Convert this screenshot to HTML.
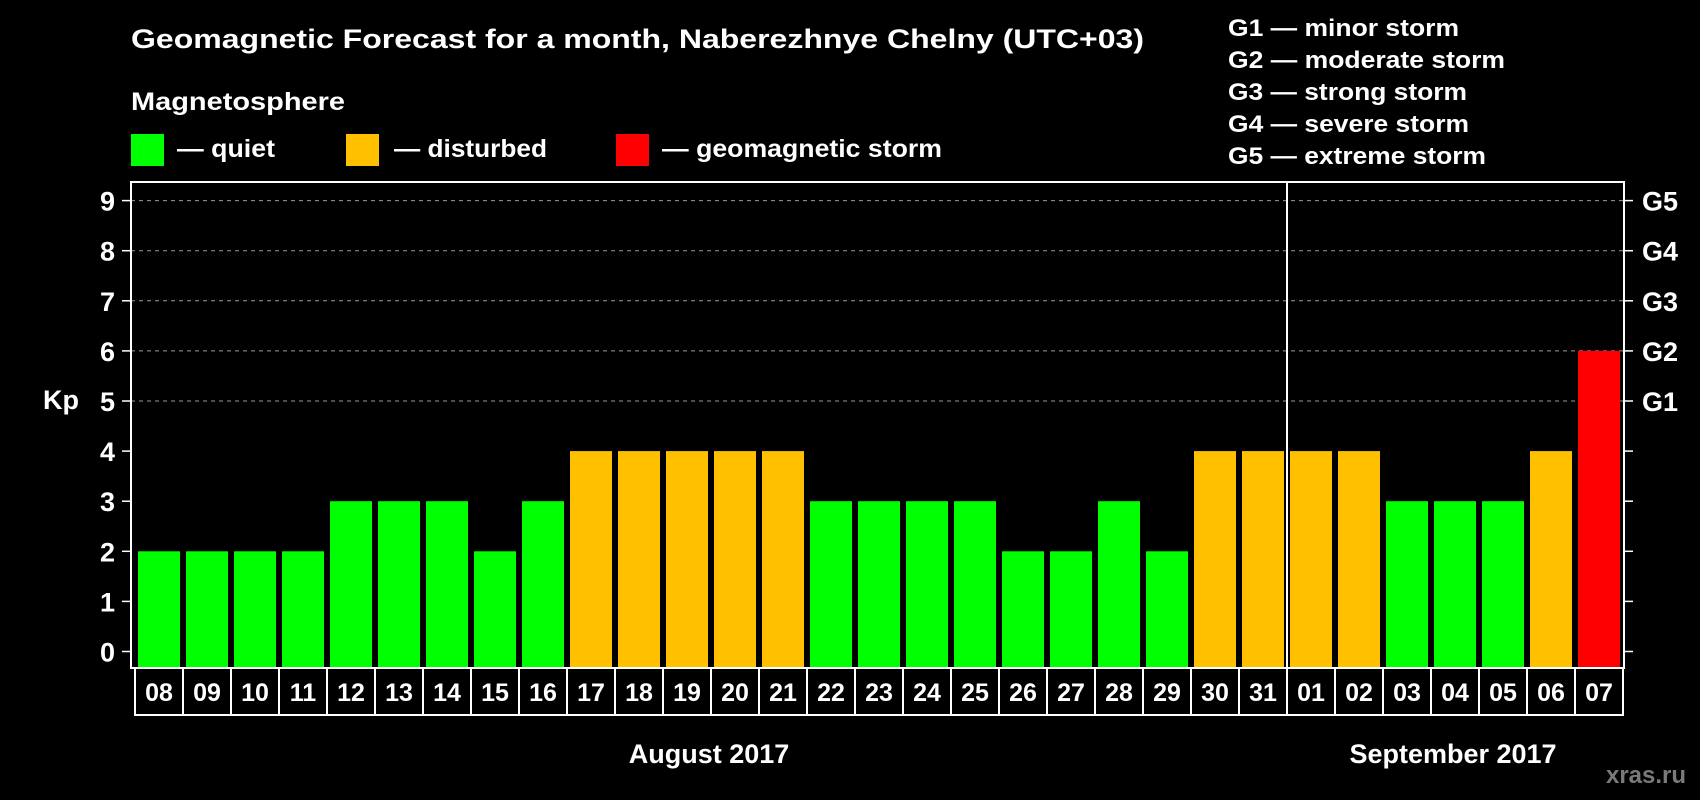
<!DOCTYPE html>
<html><head><meta charset="utf-8"><style>
html,body{margin:0;padding:0;background:#000;}
svg{display:block;font-family:"Liberation Sans",Arial,sans-serif;font-weight:bold;}
</style></head><body>
<svg id="chart" width="1700" height="800" viewBox="0 0 1700 800" xmlns="http://www.w3.org/2000/svg">
<rect x="0" y="0" width="1700" height="800" fill="#000"/>
<text x="131" y="48" fill="#fff" font-size="27" textLength="1013" lengthAdjust="spacingAndGlyphs">Geomagnetic Forecast for a month, Naberezhnye Chelny (UTC+03)</text>
<text x="131" y="110" fill="#fff" font-size="25" textLength="214" lengthAdjust="spacingAndGlyphs">Magnetosphere</text>
<rect x="131" y="134" width="33" height="32" fill="#00ff00"/>
<text x="177" y="157" fill="#fff" font-size="25" textLength="98" lengthAdjust="spacingAndGlyphs">— quiet</text>
<rect x="346" y="134" width="33" height="32" fill="#ffc000"/>
<text x="394" y="157" fill="#fff" font-size="25" textLength="153" lengthAdjust="spacingAndGlyphs">— disturbed</text>
<rect x="616" y="134" width="33" height="32" fill="#ff0000"/>
<text x="662" y="157" fill="#fff" font-size="25" textLength="280" lengthAdjust="spacingAndGlyphs">— geomagnetic storm</text>
<g fill="#fff" font-size="24">
<text x="1228" y="36" textLength="231" lengthAdjust="spacingAndGlyphs">G1 — minor storm</text>
<text x="1228" y="68" textLength="277" lengthAdjust="spacingAndGlyphs">G2 — moderate storm</text>
<text x="1228" y="100" textLength="239" lengthAdjust="spacingAndGlyphs">G3 — strong storm</text>
<text x="1228" y="132" textLength="241" lengthAdjust="spacingAndGlyphs">G4 — severe storm</text>
<text x="1228" y="164" textLength="258" lengthAdjust="spacingAndGlyphs">G5 — extreme storm</text>
</g>
<text x="43" y="409" fill="#fff" font-size="27">Kp</text>
<g id="plot"></g>
<text x="709" y="763" fill="#fff" font-size="27" text-anchor="middle">August 2017</text>
<text x="1453" y="763" fill="#fff" font-size="27" text-anchor="middle">September 2017</text>
<text x="1646" y="783" fill="#7a7a7a" font-size="24" text-anchor="middle">xras.ru</text>
</svg>
<script>
const days = ["08","09","10","11","12","13","14","15","16","17","18","19","20","21","22","23","24","25","26","27","28","29","30","31","01","02","03","04","05","06","07"];
const kpValues = [2,2,2,2,3,3,3,2,3,4,4,4,4,4,3,3,3,3,2,2,3,2,4,4,4,4,3,3,3,4,6];
const yTicks = [0,1,2,3,4,5,6,7,8,9];
const gLabels = ["G1","G2","G3","G4","G5"];
const gLevels = [5,6,7,8,9];
const monthBreakIndex = 24;

const NS = "http://www.w3.org/2000/svg";
const plot = document.getElementById("plot");
const L = 131, R = 1624, T = 182, B = 668;
const y = v => 651.5 - v * 50.1;
const pitch = 48, x0 = 138, bw = 42;
const x = i => x0 + i * pitch;
function mk(tag, attrs, parent) {
  const e = document.createElementNS(NS, tag);
  for (const k in attrs) e.setAttribute(k, attrs[k]);
  (parent || plot).appendChild(e);
  return e;
}
function color(v) { return v >= 5 ? "#ff0000" : (v >= 4 ? "#ffc000" : "#00ff00"); }

gLevels.forEach(v => {
  const g = mk("line", {x1: L, x2: R, y1: y(v), y2: y(v), stroke: "#999", "stroke-width": 1, "stroke-dasharray": "4,4"});
  
  
});
kpValues.forEach((v, i) => {
  const r = mk("rect", {x: x(i), y: y(v), width: bw, height: B - y(v), fill: color(v)});
  
  
});
const sepX = x(monthBreakIndex) - 3;
const sep = mk("line", {x1: sepX, x2: sepX, y1: T, y2: B, stroke: "#fff", "stroke-width": 2});


const fr = mk("rect", {x: L, y: T, width: R - L, height: B - T, fill: "none", stroke: "#fff", "stroke-width": 2});


yTicks.forEach(v => {
  const t1 = mk("line", {x1: L - 9, x2: L, y1: y(v), y2: y(v), stroke: "#fff", "stroke-width": 1.5});
  
  
  const t2 = mk("line", {x1: R, x2: R + 9, y1: y(v), y2: y(v), stroke: "#fff", "stroke-width": 1.5});
  
  
  const lb = mk("text", {x: 115, y: y(v) + 10, fill: "#fff", "font-size": 27, "text-anchor": "end"});
  lb.textContent = v;
  
  
});
gLevels.forEach((v, i) => {
  const lb = mk("text", {x: 1642, y: y(v) + 10, fill: "#fff", "font-size": 27});
  lb.textContent = gLabels[i];
  
  
});
days.forEach((d, i) => {
  const cx = x(i) - 3;
  const c = mk("rect", {x: cx, y: B, width: pitch, height: 47, fill: "none", stroke: "#fff", "stroke-width": 2});
  
  
  const t = mk("text", {x: cx + pitch / 2, y: 701, fill: "#fff", "font-size": 25, "text-anchor": "middle"});
  t.textContent = d;
  
  
});
</script>
</body></html>
